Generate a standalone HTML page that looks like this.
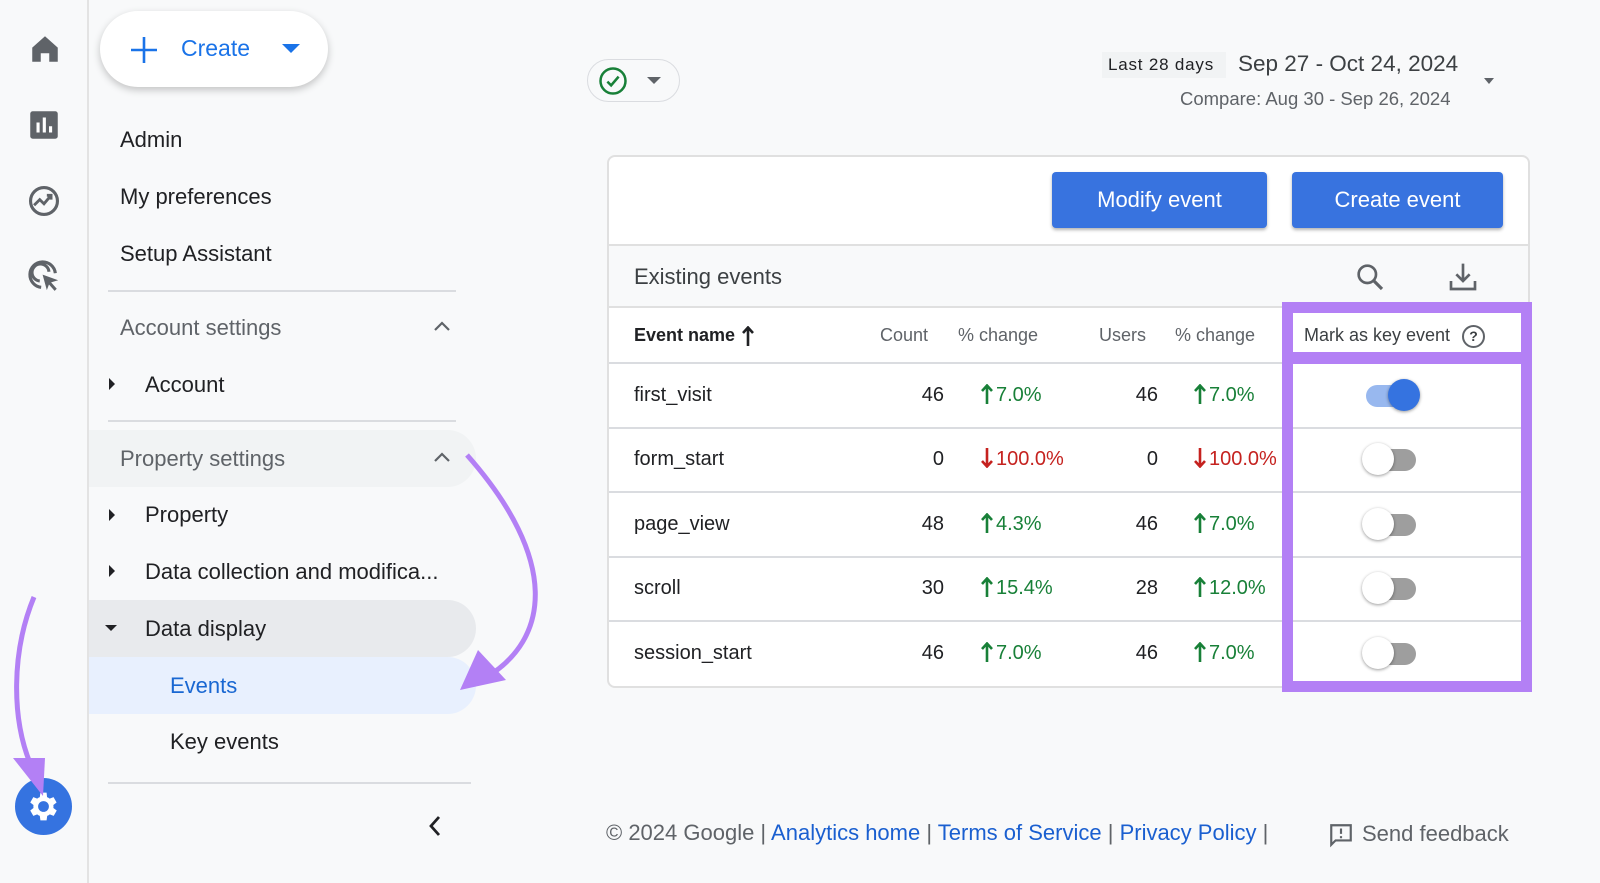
<!DOCTYPE html>
<html><head><meta charset="utf-8"><style>
*{margin:0;padding:0;box-sizing:border-box}
body{width:1600px;height:883px;background:#f8f9fa;font-family:"Liberation Sans",sans-serif;position:relative;overflow:hidden;color:#202124}
.a{position:absolute;white-space:nowrap}
.nav{font-size:22px;color:#202124}
.hl{position:absolute;height:2px;background:#dadce0}
.t{font-size:20px;color:#202124}
.th{font-size:18px;color:#5f6368}
.g{color:#188038}.r{color:#c5221f}
.g svg,.r svg{vertical-align:-3px;margin-right:2px}
.tog{position:absolute;width:56px;height:24px}
.tog .tr{position:absolute;left:4px;top:3px;width:50px;height:22px;border-radius:11px;background:#9e9e9e}
.tog .k{position:absolute;left:0;top:-3px;width:32px;height:32px;border-radius:50%;background:#fff;box-shadow:0 1px 3px rgba(0,0,0,.4)}
.tog.on .tr{background:#98b8ef}
.tog.on .k{left:26px;background:#3573e0}
.btn{position:absolute;background:#3873df;color:#fff;font-size:22px;border-radius:4px;text-align:center;box-shadow:0 2px 3px rgba(0,0,0,.3);line-height:56px}
</style></head><body>
<svg width="0" height="0" style="position:absolute"><defs>
<symbol id="up" viewBox="0 0 12 20"><path d="M6 2 V20 M1 7 L6 1.5 L11 7" fill="none" stroke="currentColor" stroke-width="2.6"/></symbol>
<symbol id="dn" viewBox="0 0 12 20"><path d="M6 0 V18 M1 13 L6 18.5 L11 13" fill="none" stroke="currentColor" stroke-width="2.6"/></symbol>
</defs></svg>
<!-- left rail -->
<div class="a" style="left:87px;top:0;width:2px;height:883px;background:#e3e3e3"></div>
<svg class="a" style="left:28px;top:32px" width="34" height="34" viewBox="0 0 24 24"><path d="M3 11 L12 3 L21 11 V21 H15 V15 H9 V21 H3 Z" fill="#5f6368"/></svg>
<svg class="a" style="left:29px;top:110px" width="30" height="30" viewBox="0 0 24 24"><rect x="1" y="1" width="22" height="22" rx="2" fill="#5f6368"/><rect x="6" y="10" width="2.5" height="8" fill="#fff"/><rect x="11" y="6" width="2.5" height="12" fill="#fff"/><rect x="16" y="13" width="2.5" height="5" fill="#fff"/></svg>
<svg class="a" style="left:27px;top:184px" width="34" height="34" viewBox="0 0 24 24"><circle cx="12" cy="12" r="9.5" fill="none" stroke="#5f6368" stroke-width="2.2"/><path d="M5 15 L9 11 L12 14 L17 8 M14 8 H17 V11" fill="none" stroke="#5f6368" stroke-width="2"/></svg>
<svg class="a" style="left:27px;top:259px" width="34" height="34" viewBox="0 0 24 24"><path d="M20 10 A9 9 0 1 0 10 20" fill="none" stroke="#5f6368" stroke-width="2.2"/><path d="M15.5 9 A6 6 0 1 0 9 15.5" fill="none" stroke="#5f6368" stroke-width="2.2"/><path d="M11 11 L22 15 L17 16.5 L21 21 L19.5 22.5 L15.5 18 L14 22 Z" fill="#5f6368"/></svg>
<div class="a" style="left:15px;top:778px;width:57px;height:57px;border-radius:50%;background:#3573e0"></div>
<svg class="a" style="left:25px;top:788px" width="37" height="37" viewBox="0 0 24 24"><path fill="#fff" d="M19.4 13a7.5 7.5 0 0 0 0-2l2.1-1.6-2-3.5-2.5 1a7 7 0 0 0-1.7-1L15 3h-4l-.4 2.9a7 7 0 0 0-1.7 1l-2.5-1-2 3.5L6.5 11a7.5 7.5 0 0 0 0 2l-2.1 1.6 2 3.5 2.5-1a7 7 0 0 0 1.7 1L11 21h4l.4-2.9a7 7 0 0 0 1.7-1l2.5 1 2-3.5zM13 15.5a3.5 3.5 0 1 1 0-7 3.5 3.5 0 0 1 0 7z" transform="translate(-1 0)"/></svg>
<!-- create button -->
<div class="a" style="left:100px;top:11px;width:228px;height:76px;border-radius:38px;background:#fff;box-shadow:0 3px 8px rgba(0,0,0,.22)"></div>
<svg class="a" style="left:130px;top:36px" width="28" height="28" viewBox="0 0 28 28"><path d="M14 1 V27 M1 14 H27" stroke="#1a73e8" stroke-width="2.6"/></svg>
<div class="a" style="left:181px;top:35px;font-size:23px;color:#1a73e8">Create</div>
<div class="a" style="left:282px;top:44px;width:0;height:0;border-left:9px solid transparent;border-right:9px solid transparent;border-top:9px solid #1a73e8"></div>
<!-- nav -->
<div class="a nav" style="left:120px;top:127px">Admin</div>
<div class="a nav" style="left:120px;top:184px">My preferences</div>
<div class="a nav" style="left:120px;top:241px">Setup Assistant</div>
<div class="hl" style="left:108px;top:290px;width:348px"></div>
<div class="a nav" style="left:120px;top:315px;color:#5f6368">Account settings</div>
<svg class="a" style="left:433px;top:320px" width="18" height="12" viewBox="0 0 18 12"><path d="M2 10 L9 3 L16 10" fill="none" stroke="#5f6368" stroke-width="2.2"/></svg>
<div class="a" style="left:109px;top:378px;border-top:6px solid transparent;border-bottom:6px solid transparent;border-left:6px solid #202124"></div>
<div class="a nav" style="left:145px;top:372px">Account</div>
<div class="hl" style="left:108px;top:420px;width:348px"></div>
<div class="a" style="left:89px;top:430px;width:387px;height:57px;border-radius:0 29px 29px 0;background:#f1f3f4"></div>
<div class="a nav" style="left:120px;top:446px;color:#5f6368">Property settings</div>
<svg class="a" style="left:433px;top:451px" width="18" height="12" viewBox="0 0 18 12"><path d="M2 10 L9 3 L16 10" fill="none" stroke="#5f6368" stroke-width="2.2"/></svg>
<div class="a" style="left:109px;top:509px;border-top:6px solid transparent;border-bottom:6px solid transparent;border-left:6px solid #202124"></div>
<div class="a nav" style="left:145px;top:502px">Property</div>
<div class="a" style="left:109px;top:565px;border-top:6px solid transparent;border-bottom:6px solid transparent;border-left:6px solid #202124"></div>
<div class="a nav" style="left:145px;top:559px">Data collection and modifica...</div>
<div class="a" style="left:89px;top:600px;width:387px;height:57px;border-radius:0 29px 29px 0;background:#e8eaed"></div>
<div class="a" style="left:105px;top:625px;border-left:6px solid transparent;border-right:6px solid transparent;border-top:6px solid #202124"></div>
<div class="a nav" style="left:145px;top:616px">Data display</div>
<div class="a" style="left:89px;top:657px;width:387px;height:57px;border-radius:0 29px 29px 0;background:#e8f0fe"></div>
<div class="a nav" style="left:170px;top:673px;color:#1967d2">Events</div>
<div class="a nav" style="left:170px;top:729px">Key events</div>
<div class="hl" style="left:108px;top:782px;width:363px"></div>
<svg class="a" style="left:427px;top:814px" width="16" height="24" viewBox="0 0 16 24"><path d="M12 3 L4 12 L12 21" fill="none" stroke="#202124" stroke-width="2.8"/></svg>
<!-- top bar -->
<div class="a" style="left:587px;top:59px;width:93px;height:43px;border-radius:22px;border:1.5px solid #dadce0"></div>
<svg class="a" style="left:598px;top:66px" width="30" height="30" viewBox="0 0 24 24"><circle cx="12" cy="12" r="10" fill="none" stroke="#188038" stroke-width="2"/><path d="M7.5 12.5 L10.5 15.5 L16.5 8.5" fill="none" stroke="#188038" stroke-width="2"/></svg>
<div class="a" style="left:647px;top:77px;border-left:7px solid transparent;border-right:7px solid transparent;border-top:7px solid #5f6368"></div>
<div class="a" style="left:1102px;top:52px;width:124px;height:26px;background:#f1f3f4"></div>
<div class="a" style="left:1108px;top:55px;font-size:17px;color:#202124;letter-spacing:.8px">Last 28 days</div>
<div class="a" style="left:1238px;top:51px;font-size:22.5px;color:#3c4043">Sep 27 - Oct 24, 2024</div>
<div class="a" style="left:1180px;top:88px;font-size:18.5px;color:#5f6368">Compare: Aug 30 - Sep 26, 2024</div>
<div class="a" style="left:1484px;top:78px;border-left:5px solid transparent;border-right:5px solid transparent;border-top:6px solid #5f6368"></div>
<!-- card -->
<div class="a" style="left:607px;top:155px;width:923px;height:533px;background:#fff;border:2px solid #e0e0e0;border-radius:8px"></div>
<div class="btn" style="left:1052px;top:172px;width:215px">Modify event</div>
<div class="btn" style="left:1292px;top:172px;width:211px">Create event</div>
<div class="a" style="left:609px;top:244px;width:919px;height:64px;background:#f8f9fa;border-top:2px solid #e0e0e0;border-bottom:2px solid #e0e0e0"></div>
<div class="a" style="left:634px;top:264px;font-size:22px;color:#3c4043">Existing events</div>
<svg class="a" style="left:1354px;top:261px" width="32" height="32" viewBox="0 0 24 24"><circle cx="10" cy="10" r="6.5" fill="none" stroke="#5f6368" stroke-width="2"/><path d="M15 15 L21 21" stroke="#5f6368" stroke-width="2.4"/></svg>
<svg class="a" style="left:1447px;top:261px" width="32" height="32" viewBox="0 0 24 24"><path d="M12 2 V15 M7 10 L12 15 L17 10 M3 15 V21 H21 V15" fill="none" stroke="#5f6368" stroke-width="2"/></svg>
<!-- headers -->
<div class="a" style="left:634px;top:325px;font-size:18px;font-weight:bold">Event name</div>
<svg class="a" style="left:741px;top:326px" width="14" height="20"><use href="#up" style="color:#202124"/></svg>
<div class="a th" style="left:880px;top:325px">Count</div>
<div class="a th" style="left:958px;top:325px">% change</div>
<div class="a th" style="left:1099px;top:325px">Users</div>
<div class="a th" style="left:1175px;top:325px">% change</div>
<div class="a th" style="left:1304px;top:325px;color:#3c4043">Mark as key event</div>
<div class="a" style="left:1462px;top:325px;width:23px;height:23px;border-radius:50%;border:2px solid #5f6368;font-size:14px;font-weight:bold;text-align:center;line-height:19px;color:#3c4043">?</div>
<div class="hl" style="left:609px;top:362px;width:919px;height:1.5px"></div>
<div class="hl" style="left:609px;top:427px;width:919px;height:1.5px"></div>
<div class="hl" style="left:609px;top:491px;width:919px;height:1.5px"></div>
<div class="hl" style="left:609px;top:556px;width:919px;height:1.5px"></div>
<div class="hl" style="left:609px;top:620px;width:919px;height:1.5px"></div>
<!-- rows -->
<div class="a t" style="left:634px;top:384px">first_visit</div>
<div class="a t" style="left:880px;top:384px;width:64px;text-align:right">46</div>
<div class="a t g" style="left:980px;top:384px"><svg width="14" height="20"><use href="#up"/></svg>7.0%</div>
<div class="a t" style="left:1094px;top:384px;width:64px;text-align:right">46</div>
<div class="a t g" style="left:1193px;top:384px"><svg width="14" height="20"><use href="#up"/></svg>7.0%</div>

<div class="a t" style="left:634px;top:448px">form_start</div>
<div class="a t" style="left:880px;top:448px;width:64px;text-align:right">0</div>
<div class="a t r" style="left:980px;top:448px"><svg width="14" height="20"><use href="#dn"/></svg>100.0%</div>
<div class="a t" style="left:1094px;top:448px;width:64px;text-align:right">0</div>
<div class="a t r" style="left:1193px;top:448px"><svg width="14" height="20"><use href="#dn"/></svg>100.0%</div>

<div class="a t" style="left:634px;top:513px">page_view</div>
<div class="a t" style="left:880px;top:513px;width:64px;text-align:right">48</div>
<div class="a t g" style="left:980px;top:513px"><svg width="14" height="20"><use href="#up"/></svg>4.3%</div>
<div class="a t" style="left:1094px;top:513px;width:64px;text-align:right">46</div>
<div class="a t g" style="left:1193px;top:513px"><svg width="14" height="20"><use href="#up"/></svg>7.0%</div>

<div class="a t" style="left:634px;top:577px">scroll</div>
<div class="a t" style="left:880px;top:577px;width:64px;text-align:right">30</div>
<div class="a t g" style="left:980px;top:577px"><svg width="14" height="20"><use href="#up"/></svg>15.4%</div>
<div class="a t" style="left:1094px;top:577px;width:64px;text-align:right">28</div>
<div class="a t g" style="left:1193px;top:577px"><svg width="14" height="20"><use href="#up"/></svg>12.0%</div>

<div class="a t" style="left:634px;top:642px">session_start</div>
<div class="a t" style="left:880px;top:642px;width:64px;text-align:right">46</div>
<div class="a t g" style="left:980px;top:642px"><svg width="14" height="20"><use href="#up"/></svg>7.0%</div>
<div class="a t" style="left:1094px;top:642px;width:64px;text-align:right">46</div>
<div class="a t g" style="left:1193px;top:642px"><svg width="14" height="20"><use href="#up"/></svg>7.0%</div>
<!-- toggles -->
<div class="tog on" style="left:1362px;top:382px"><div class="tr"></div><div class="k"></div></div>
<div class="tog" style="left:1362px;top:446px"><div class="tr"></div><div class="k"></div></div>
<div class="tog" style="left:1362px;top:511px"><div class="tr"></div><div class="k"></div></div>
<div class="tog" style="left:1362px;top:575px"><div class="tr"></div><div class="k"></div></div>
<div class="tog" style="left:1362px;top:640px"><div class="tr"></div><div class="k"></div></div>
<!-- purple highlight -->
<div class="a" style="left:1282px;top:302px;width:250px;height:390px;border:11px solid #b380f5"></div>
<div class="a" style="left:1282px;top:352px;width:250px;height:12px;background:#b380f5"></div>
<!-- arrows -->
<svg class="a" style="left:0;top:0" width="1600" height="883">
<path d="M467 455 C560 560 550 640 485 678" fill="none" stroke="#b380f5" stroke-width="5"/>
<path d="M460 690 L478 650 L506 680 Z" fill="#b380f5"/>
<path d="M34 597 C12 650 10 720 33 770" fill="none" stroke="#b380f5" stroke-width="5"/>
<path d="M13 758 L45 758 L43 796 Z" fill="#b380f5"/>
</svg>
<!-- footer -->
<div class="a" style="left:606px;top:820px;font-size:22px;color:#5f6368">© 2024 Google | <span style="color:#1a5fd0">Analytics home</span> | <span style="color:#1a5fd0">Terms of Service</span> | <span style="color:#1a5fd0">Privacy Policy</span> |</div>
<svg class="a" style="left:1328px;top:822px" width="26" height="26" viewBox="0 0 24 24"><path d="M3 3 H21 V17 H7 L3 21 Z" fill="none" stroke="#5f6368" stroke-width="2"/><path d="M12 6 V11 M12 13 V15" stroke="#5f6368" stroke-width="2"/></svg>
<div class="a" style="left:1362px;top:821px;font-size:22px;color:#5f6368">Send feedback</div>
</body></html>
